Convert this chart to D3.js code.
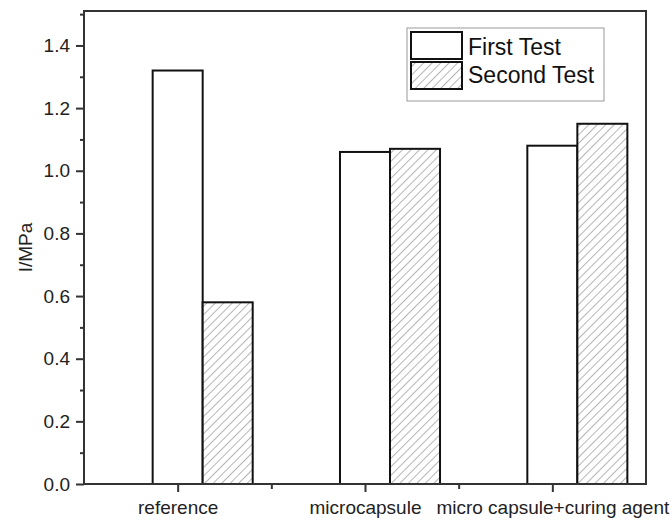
<!DOCTYPE html>
<html>
<head>
<meta charset="utf-8">
<script src="https://cdn.jsdelivr.net/npm/d3@7"></script>
<style>
  html, body { margin: 0; padding: 0; background: #fff; }
  svg { display: block; font-family: "Liberation Sans", Arial, sans-serif; }
</style>
</head>
<body>
<svg id="chart" width="672" height="523"></svg>
<script>
// Bond strength per specimen group, two test rounds
const categories = ["reference", "microcapsule", "micro capsule+curing agent"];
const firstTest = [1.32, 1.06, 1.08];
const secondTest = [0.58, 1.07, 1.15];
const seriesNames = ["First Test", "Second Test"];
const yTicks = [0.0, 0.2, 0.4, 0.6, 0.8, 1.0, 1.2, 1.4];
const yMinorTicks = [0.1, 0.3, 0.5, 0.7, 0.9, 1.1, 1.3, 1.5];

const svg = d3.select("#chart");
const plotL = 84, plotR = 646, plotT = 11, plotB = 484;
const FONT = "Liberation Sans, Arial, sans-serif";

// categories sit at positions 1..n on a linear axis
const x = d3.scaleLinear().domain([0.5, categories.length + 0.5]).range([plotL, plotR]);
const y = d3.scaleLinear().domain([0, 1.51]).range([plotB, plotT]);
const barW = 0.267;

// diagonal hatch for the second series
const defs = svg.append("defs");
const pat = defs.append("pattern")
  .attr("id", "hatch")
  .attr("patternUnits", "userSpaceOnUse")
  .attr("width", 6).attr("height", 6)
  .attr("patternTransform", "rotate(45)");
pat.append("rect").attr("width", 6).attr("height", 6).attr("fill", "#fff");
pat.append("line")
  .attr("x1", 0).attr("y1", 0).attr("x2", 0).attr("y2", 6)
  .attr("stroke", "#777").attr("stroke-width", 1.1);

// bars
const g = svg.append("g");
g.selectAll("rect.first").data(firstTest).join("rect")
  .attr("class", "first")
  .attr("x", (d, i) => x(i + 1 - barW / 2))
  .attr("width", (d, i) => x(i + 1 + barW / 2) - x(i + 1 - barW / 2))
  .attr("y", d => y(d))
  .attr("height", d => y(0) - y(d))
  .attr("fill", "#fff").attr("stroke", "#111").attr("stroke-width", 2);

g.selectAll("rect.second").data(secondTest).join("rect")
  .attr("class", "second")
  .attr("x", (d, i) => x(i + 1 + barW / 2))
  .attr("width", (d, i) => x(i + 1 + 1.5 * barW) - x(i + 1 + barW / 2))
  .attr("y", d => y(d))
  .attr("height", d => y(0) - y(d))
  .attr("fill", "url(#hatch)").attr("stroke", "#111").attr("stroke-width", 2);

// frame
svg.append("rect")
  .attr("x", plotL).attr("y", plotT)
  .attr("width", plotR - plotL).attr("height", plotB - plotT)
  .attr("fill", "none").attr("stroke", "#333").attr("stroke-width", 2);

// y axis
const yAxis = d3.axisLeft(y).tickValues(yTicks).tickFormat(d3.format(".1f")).tickSize(8).tickPadding(6);
const ya = svg.append("g").attr("transform", `translate(${plotL},0)`).call(yAxis);
ya.select(".domain").remove();
ya.selectAll(".tick line").attr("stroke", "#333").attr("stroke-width", 2);
ya.selectAll(".tick text").attr("font-size", 19).attr("fill", "#222").attr("font-family", FONT);
const yMinor = d3.axisLeft(y).tickValues(yMinorTicks.filter(v => v < 1.51)).tickFormat("").tickSize(4);
const ym = svg.append("g").attr("transform", `translate(${plotL},0)`).call(yMinor);
ym.select(".domain").remove();
ym.selectAll(".tick line").attr("stroke", "#333").attr("stroke-width", 2);

// x axis
const xAxis = d3.axisBottom(x).tickValues(d3.range(1, categories.length + 1))
  .tickFormat(d => categories[d - 1]).tickSize(8).tickPadding(9);
const xa = svg.append("g").attr("transform", `translate(0,${plotB})`).call(xAxis);
xa.select(".domain").remove();
xa.selectAll(".tick line").attr("stroke", "#333").attr("stroke-width", 2);
xa.selectAll(".tick text").attr("font-size", 19).attr("fill", "#222").attr("font-family", FONT);
const xMinor = d3.axisBottom(x).tickValues(d3.range(1.5, categories.length, 1)).tickFormat("").tickSize(5);
const xm = svg.append("g").attr("transform", `translate(0,${plotB})`).call(xMinor);
xm.select(".domain").remove();
xm.selectAll(".tick line").attr("stroke", "#333").attr("stroke-width", 2);

// y title
svg.append("text")
  .attr("transform", `translate(32,${(plotT + plotB) / 2}) rotate(-90)`)
  .attr("text-anchor", "middle")
  .attr("font-size", 19).attr("fill", "#222")
  .text("I/MPa");

// legend
const lg = svg.append("g").attr("transform", "translate(407,28)");
lg.append("rect").attr("width", 197).attr("height", 73)
  .attr("fill", "#fff").attr("stroke", "#999").attr("stroke-width", 1);
const fills = ["#fff", "url(#hatch)"];
seriesNames.forEach((name, i) => {
  lg.append("rect")
    .attr("x", 4).attr("y", 4 + i * 30)
    .attr("width", 51).attr("height", 27)
    .attr("fill", fills[i]).attr("stroke", "#111").attr("stroke-width", 2);
  lg.append("text")
    .attr("x", 61).attr("y", 27 + i * 28)
    .attr("font-size", 23).attr("fill", "#111")
    .text(name);
});
</script>
</body>
</html>
